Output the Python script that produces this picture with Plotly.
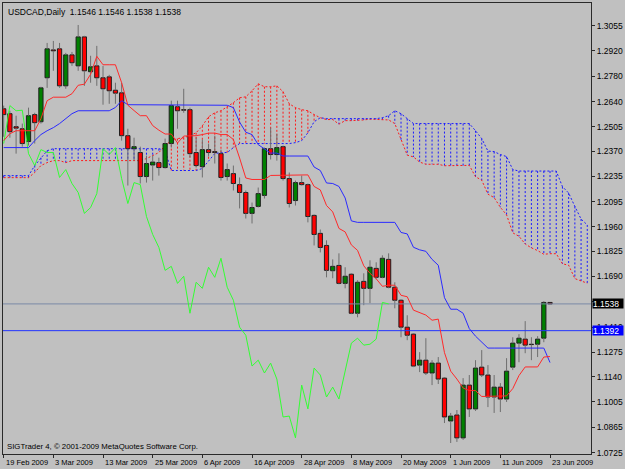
import plotly.graph_objects as go

# ---------------- data ----------------
X_LABELS = ["19 Feb 2009", "3 Mar 2009", "13 Mar 2009", "25 Mar 2009", "6 Apr 2009",
            "16 Apr 2009", "28 Apr 2009", "8 May 2009", "20 May 2009", "1 Jun 2009",
            "11 Jun 2009", "23 Jun 2009"]
X_LABEL_BARS = [0, 8, 16, 24, 32, 40, 48, 56, 64, 72, 80, 88]

Y_TICKS = [1.3055, 1.2920, 1.2780, 1.2640, 1.2505, 1.2370, 1.2235, 1.2095, 1.1960,
           1.1825, 1.1690, 1.1550, 1.1410, 1.1275, 1.1140, 1.1005, 1.0865, 1.0725]
Y_TICK_HIDDEN = [1.1550]   # covered by the bid-price box in the reference

opens = [1.2603, 1.2576, 1.2505, 1.2494, 1.2424, 1.2571, 1.2532, 1.2772, 1.2924, 1.2930,
         1.2728, 1.2897, 1.2837, 1.2995, 1.2805, 1.2837, 1.2772, 1.2777, 1.2704, 1.2690,
         1.2456, 1.2385, 1.2364, 1.2233, 1.2296, 1.2309, 1.2282, 1.2413, 1.2614, 1.2598,
         1.2598, 1.2364, 1.2287, 1.2380, 1.2369, 1.2358, 1.2233, 1.2249, 1.2189, 1.2146,
         1.2032, 1.2070, 1.2130, 1.2385, 1.2353, 1.2396, 1.2222, 1.2102, 1.2200, 1.2189,
         1.2021, 1.1923, 1.1857, 1.1719, 1.1748, 1.1650, 1.1700, 1.1487, 1.1661, 1.1623,
         1.1732, 1.1683, 1.1781, 1.1629, 1.1558, 1.1411, 1.1373, 1.1204, 1.1231, 1.1161,
         1.1215, 1.1133, 1.0899, 1.0932, 1.0807, 1.1095, 1.0965, 1.1193, 1.1150, 1.1030,
         1.1084, 1.1019, 1.1193, 1.1324, 1.1346, 1.1316, 1.1318, 1.1351, 1.1546]
highs = [1.2620, 1.2592, 1.2565, 1.2522, 1.2609, 1.2581, 1.2723, 1.2962, 1.2973, 1.2962,
         1.2908, 1.2913, 1.3060, 1.3001, 1.2892, 1.2946, 1.2837, 1.2788, 1.2745, 1.2745,
         1.2494, 1.2445, 1.2396, 1.2347, 1.2347, 1.2336, 1.2440, 1.2647, 1.2647, 1.2712,
         1.2609, 1.2445, 1.2434, 1.2413, 1.2456, 1.2380, 1.2304, 1.2293, 1.2228, 1.2157,
         1.2091, 1.2173, 1.2391, 1.2500, 1.2467, 1.2402, 1.2255, 1.2211, 1.2238, 1.2195,
         1.2026, 1.1944, 1.1885, 1.1781, 1.1814, 1.1738, 1.1705, 1.1667, 1.1705, 1.1776,
         1.1765, 1.1803, 1.1814, 1.1656, 1.1563, 1.1476, 1.1378, 1.1275, 1.1351, 1.1231,
         1.1248, 1.1139, 1.0943, 1.0959, 1.1133, 1.1150, 1.1231, 1.1286, 1.1204, 1.1150,
         1.1106, 1.1242, 1.1356, 1.1373, 1.1444, 1.1356, 1.1362, 1.1553, 1.1546]
lows = [1.2450, 1.2445, 1.2358, 1.2396, 1.2402, 1.2413, 1.2522, 1.2717, 1.2810, 1.2717,
        1.2712, 1.2837, 1.2810, 1.2728, 1.2745, 1.2728, 1.2625, 1.2630, 1.2630, 1.2429,
        1.2184, 1.2320, 1.2195, 1.2200, 1.2211, 1.2238, 1.2277, 1.2391, 1.2494, 1.2581,
        1.2336, 1.2282, 1.2228, 1.2342, 1.2304, 1.2211, 1.2211, 1.2157, 1.2059, 1.2004,
        1.1977, 1.2064, 1.2113, 1.2326, 1.2320, 1.2211, 1.2064, 1.2075, 1.2184, 1.1983,
        1.1857, 1.1819, 1.1683, 1.1678, 1.1645, 1.1623, 1.1482, 1.1465, 1.1531, 1.1542,
        1.1672, 1.1678, 1.1623, 1.1514, 1.1356, 1.1340, 1.1193, 1.1166, 1.1150, 1.1095,
        1.1101, 1.0888, 1.0779, 1.0785, 1.0796, 1.0921, 1.0954, 1.1139, 1.0975, 1.0943,
        1.0948, 1.1003, 1.1177, 1.1220, 1.1269, 1.1231, 1.1248, 1.1329, 1.1538]
closes = [1.2571, 1.2478, 1.2497, 1.2413, 1.2565, 1.2527, 1.2717, 1.2930, 1.2919, 1.2728,
          1.2897, 1.2854, 1.2995, 1.2810, 1.2832, 1.2772, 1.2712, 1.2701, 1.2688, 1.2456,
          1.2385, 1.2396, 1.2233, 1.2304, 1.2312, 1.2282, 1.2413, 1.2620, 1.2592, 1.2595,
          1.2358, 1.2293, 1.2380, 1.2364, 1.2364, 1.2228, 1.2271, 1.2195, 1.2146, 1.2032,
          1.2064, 1.2140, 1.2385, 1.2353, 1.2391, 1.2222, 1.2086, 1.2200, 1.2189, 1.2015,
          1.1917, 1.1846, 1.1721, 1.1743, 1.1650, 1.1689, 1.1487, 1.1656, 1.1623, 1.1738,
          1.1683, 1.1787, 1.1629, 1.1558, 1.1411, 1.1367, 1.1199, 1.1231, 1.1161, 1.1215,
          1.1128, 1.0921, 1.0926, 1.0807, 1.1095, 1.0965, 1.1188, 1.1150, 1.1030, 1.1084,
          1.1019, 1.1171, 1.1324, 1.1351, 1.1313, 1.1318, 1.1346, 1.1546, 1.1538]

tenkan = [1.2429, 1.2467, 1.2483, 1.2483, 1.2483, 1.2483, 1.2549, 1.2647, 1.2666, 1.2666,
          1.2666, 1.2685, 1.2731, 1.2737, 1.2791, 1.2889, 1.2843, 1.2843, 1.2843, 1.2745,
          1.2622, 1.2593, 1.2565, 1.2565, 1.2511, 1.2486, 1.2465, 1.2465, 1.2416, 1.2454,
          1.2454, 1.2456, 1.2462, 1.2470, 1.2470, 1.2462, 1.2462, 1.2435, 1.2334, 1.2225,
          1.2217, 1.2217, 1.2217, 1.2239, 1.2239, 1.2239, 1.2239, 1.2239, 1.2239, 1.2242,
          1.2179, 1.2160, 1.2075, 1.2040, 1.1950, 1.1931, 1.1860, 1.1830, 1.1746, 1.1705,
          1.1675, 1.1634, 1.1640, 1.1640, 1.1585, 1.1577, 1.1504, 1.1490, 1.1477, 1.1449,
          1.1455, 1.1272, 1.1171, 1.1128, 1.1079, 1.1065, 1.1065, 1.1033, 1.1033, 1.1033,
          1.1033, 1.1036, 1.1076, 1.1147, 1.1194, 1.1194, 1.1194, 1.1248, 1.1251]
kijun = [1.2391, 1.2391, 1.2391, 1.2391, 1.2391, 1.2429, 1.2462, 1.2483, 1.2500, 1.2522,
         1.2549, 1.2576, 1.2592, 1.2592, 1.2592, 1.2592, 1.2592, 1.2592, 1.2610, 1.2647,
         1.2625, 1.2625, 1.2625, 1.2625, 1.2625, 1.2622, 1.2622, 1.2622, 1.2622, 1.2622,
         1.2622, 1.2622, 1.2622, 1.2622, 1.2622, 1.2622, 1.2622, 1.2609, 1.2530, 1.2475,
         1.2462, 1.2407, 1.2383, 1.2361, 1.2361, 1.2345, 1.2345, 1.2345, 1.2345, 1.2345,
         1.2285, 1.2266, 1.2198, 1.2195, 1.2179, 1.2116, 1.1991, 1.1983, 1.1983, 1.1983,
         1.1983, 1.1983, 1.1983, 1.1983, 1.1928, 1.1920, 1.1847, 1.1833, 1.1825, 1.1781,
         1.1749, 1.1572, 1.1509, 1.1509, 1.1487, 1.1403, 1.1362, 1.1332, 1.1297, 1.1297,
         1.1297, 1.1297, 1.1297, 1.1297, 1.1297, 1.1297, 1.1297, 1.1297, 1.1218]
span_a = [1.2227, 1.2227, 1.2227, 1.2227, 1.2227, 1.2255, 1.2293, 1.2309, 1.2320, 1.2320,
          1.2309, 1.2320, 1.2320, 1.2320, 1.2320, 1.2320, 1.2320, 1.2320, 1.2320, 1.2320,
          1.2320, 1.2320, 1.2320, 1.2331, 1.2347, 1.2364, 1.2402, 1.2429, 1.2440, 1.2445,
          1.2456, 1.2472, 1.2510, 1.2559, 1.2581, 1.2592, 1.2614, 1.2636, 1.2663, 1.2668,
          1.2701, 1.2739, 1.2723, 1.2723, 1.2728, 1.2696, 1.2630, 1.2609, 1.2598, 1.2592,
          1.2571, 1.2554, 1.2544, 1.2544, 1.2519, 1.2538, 1.2538, 1.2539, 1.2542, 1.2546,
          1.2546, 1.2542, 1.2542, 1.2522, 1.2432, 1.2350, 1.2340, 1.2312, 1.2300, 1.2300,
          1.2300, 1.2292, 1.2292, 1.2292, 1.2292, 1.2294, 1.2232, 1.2213, 1.2137, 1.2118,
          1.2065, 1.2024, 1.1926, 1.1907, 1.1865, 1.1844, 1.1829, 1.1809, 1.1812, 1.1812,
          1.1757, 1.1749, 1.1676, 1.1662, 1.1651]
span_b = [1.2238, 1.2238, 1.2238, 1.2238, 1.2238, 1.2293, 1.2336, 1.2374, 1.2385, 1.2385,
          1.2385, 1.2385, 1.2385, 1.2385, 1.2385, 1.2385, 1.2385, 1.2385, 1.2385, 1.2385,
          1.2385, 1.2385, 1.2385, 1.2385, 1.2385, 1.2385, 1.2374, 1.2266, 1.2266, 1.2266,
          1.2266, 1.2266, 1.2277, 1.2320, 1.2358, 1.2364, 1.2364, 1.2391, 1.2413, 1.2413,
          1.2413, 1.2413, 1.2413, 1.2413, 1.2413, 1.2413, 1.2413, 1.2418, 1.2429, 1.2472,
          1.2532, 1.2554, 1.2549, 1.2549, 1.2549, 1.2549, 1.2549, 1.2549, 1.2549, 1.2549,
          1.2549, 1.2554, 1.2565, 1.2592, 1.2576, 1.2549, 1.2522, 1.2522, 1.2522, 1.2522,
          1.2522, 1.2522, 1.2522, 1.2522, 1.2522, 1.2522, 1.2483, 1.2440, 1.2372, 1.2369,
          1.2353, 1.2342, 1.2271, 1.2263, 1.2263, 1.2263, 1.2263, 1.2263, 1.2263, 1.2263,
          1.2178, 1.2143, 1.2070, 1.2001, 1.1969]

CHIKOU_SHIFT = 26
BID_PRICE = 1.1538
HLINE_PRICE = 1.1392
TITLE = "USDCAD,Daily\u00a0\u00a01.1546 1.1546 1.1538 1.1538"
FOOTER = "SIGTrader 4, \u00a9 2001-2009 MetaQuotes Software Corp."

# ---------------- styling ----------------
BG = "#C0C0C0"
FONT = "Liberation Sans, Arial, sans-serif"
UP = "#008000"
DOWN = "#FF0000"
WICK = "#6E6E6E"
EDGE = "#1E1E1E"
XR = [-0.11, 94.6]
YR = [1.0719, 1.3180]

n = len(opens)
bars = list(range(n))
cloud_x = list(range(len(span_a)))

fig = go.Figure()

# ---- cloud (layer 1) ----
hx_r, hy_r, hx_b, hy_b = [], [], [], []
for j in cloud_x:
    if span_a[j] >= span_b[j]:
        hx_r += [j, j, None]
        hy_r += [span_a[j], span_b[j], None]
    else:
        hx_b += [j, j, None]
        hy_b += [span_b[j], span_a[j], None]
fig.add_trace(go.Scatter(x=hx_r, y=hy_r, mode="lines", hoverinfo="skip",
                         line=dict(color="#FF1A1A", width=1, dash="2px,2px"), xaxis="x", yaxis="y"))
fig.add_trace(go.Scatter(x=hx_b, y=hy_b, mode="lines", hoverinfo="skip",
                         line=dict(color="#1A1AFF", width=1, dash="2px,2px"), xaxis="x", yaxis="y"))
fig.add_trace(go.Scatter(x=cloud_x, y=span_a, mode="lines", name="Senkou A",
                         line=dict(color="#FF1A1A", width=1, dash="2px,2px"), xaxis="x", yaxis="y"))
fig.add_trace(go.Scatter(x=cloud_x, y=span_b, mode="lines", name="Senkou B",
                         line=dict(color="#1A1AFF", width=1, dash="2px,2px"), xaxis="x", yaxis="y"))

# ---- candles (layer 2) ----
wx, wy = [], []
for i in bars:
    top = max(opens[i], closes[i])
    bot = min(opens[i], closes[i])
    wx += [i, i, None, i, i, None]
    wy += [highs[i], top, None, bot, lows[i], None]
fig.add_trace(go.Scatter(x=wx, y=wy, mode="lines", hoverinfo="skip",
                         line=dict(color=WICK, width=1), xaxis="x2", yaxis="y2"))
body_base = [min(o, c) for o, c in zip(opens, closes)]
body_h = [max(abs(c - o), 0.00012) for o, c in zip(opens, closes)]
body_col = [UP if c >= o else DOWN for o, c in zip(opens, closes)]
fig.add_trace(go.Bar(x=bars, y=body_h, base=body_base, width=0.68,
                     marker=dict(color=body_col, line=dict(color=EDGE, width=1)),
                     xaxis="x2", yaxis="y2"))

# ---- indicator lines (layer 3) ----
fig.add_trace(go.Scatter(x=[XR[0], XR[1]], y=[BID_PRICE, BID_PRICE], mode="lines",
                         line=dict(color="#7A8AA6", width=1), xaxis="x3", yaxis="y3"))
fig.add_trace(go.Scatter(x=[XR[0], XR[1]], y=[HLINE_PRICE, HLINE_PRICE], mode="lines",
                         line=dict(color="#2233FF", width=1), xaxis="x3", yaxis="y3"))
fig.add_trace(go.Scatter(x=bars[:n - CHIKOU_SHIFT], y=closes[CHIKOU_SHIFT:], mode="lines",
                         line=dict(color="#33FF33", width=1), xaxis="x3", yaxis="y3"))
fig.add_trace(go.Scatter(x=bars, y=kijun, mode="lines",
                         line=dict(color="#2A2AFF", width=1), xaxis="x3", yaxis="y3"))
fig.add_trace(go.Scatter(x=bars, y=tenkan, mode="lines",
                         line=dict(color="#FF2A2A", width=1), xaxis="x3", yaxis="y3"))

hidden = dict(range=XR, visible=False, fixedrange=True)
hidden_y = dict(range=YR, visible=False, fixedrange=True)

fig.update_layout(
    width=625, height=469,
    margin=dict(l=2, r=31, t=2, b=15, pad=0),
    paper_bgcolor=BG, plot_bgcolor=BG,
    showlegend=False, barmode="overlay",
    font=dict(family=FONT, size=8, color="#000000"),
    xaxis=dict(range=XR, showgrid=False, zeroline=False, showline=True, mirror=True,
               linecolor="#2A2A2A", linewidth=1, ticks="outside", ticklen=3,
               tickcolor="#2A2A2A", tickvals=X_LABEL_BARS, showticklabels=False,
               fixedrange=True),
    yaxis=dict(range=YR, side="right", showgrid=False, zeroline=False, showline=True,
               mirror=True, linecolor="#2A2A2A", linewidth=1, ticks="outside", ticklen=3,
               tickcolor="#2A2A2A", tickvals=Y_TICKS,
               ticktext=["" if v in Y_TICK_HIDDEN else "%.4f" % v for v in Y_TICKS],
               tickfont=dict(family=FONT, size=8.5, color="#000000"), fixedrange=True),
    xaxis2=dict(overlaying="x", **hidden),
    yaxis2=dict(overlaying="y", **hidden_y),
    xaxis3=dict(overlaying="x", **hidden),
    yaxis3=dict(overlaying="y", **hidden_y),
)

annotations = []
for b, lab in zip(X_LABEL_BARS, X_LABELS):
    annotations.append(dict(x=b, xref="x", y=0, yref="paper", text=lab, showarrow=False,
                            xanchor="left", yanchor="top", yshift=-2,
                            font=dict(family=FONT, size=7.5, color="#000000")))
annotations.append(dict(x=0, xref="paper", y=1, yref="paper", text=TITLE, showarrow=False,
                        xanchor="left", yanchor="top", xshift=3, yshift=-2,
                        font=dict(family=FONT, size=8.5, color="#000000")))
annotations.append(dict(x=0, xref="paper", y=0, yref="paper", text=FOOTER, showarrow=False,
                        xanchor="left", yanchor="bottom", xshift=2, yshift=1,
                        font=dict(family=FONT, size=7.8, color="#000000")))
annotations.append(dict(x=1, xref="paper", y=BID_PRICE, yref="y", text="%.4f" % BID_PRICE,
                        showarrow=False, xanchor="left", yanchor="middle", xshift=1,
                        width=30, height=9, align="left", bgcolor="#000000", borderpad=0,
                        font=dict(family=FONT, size=8.5, color="#FFFFFF")))
annotations.append(dict(x=1, xref="paper", y=HLINE_PRICE, yref="y", text="%.4f" % HLINE_PRICE,
                        showarrow=False, xanchor="left", yanchor="middle", xshift=1,
                        width=30, height=9, align="left", bgcolor="#0000FF", borderpad=0,
                        font=dict(family=FONT, size=8.5, color="#FFFFFF")))
fig.update_layout(annotations=annotations)

fig.write_html("out.html")
